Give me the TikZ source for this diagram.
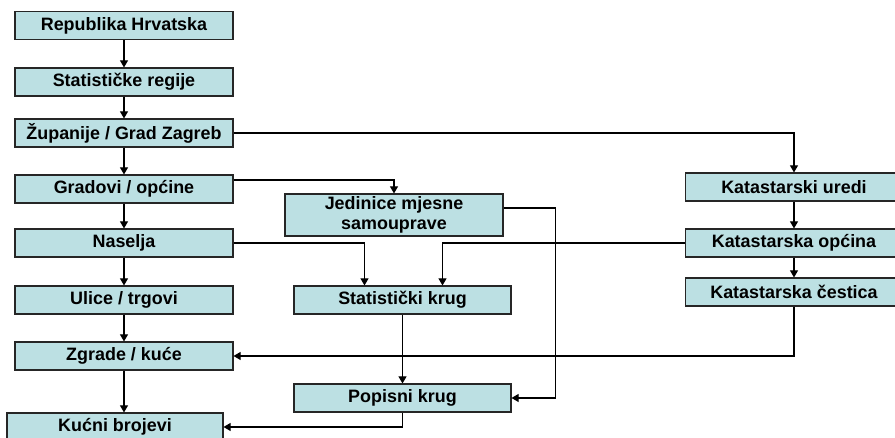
\documentclass[tikz,border=0pt]{standalone}
\usepackage{fontspec}
\setmainfont{Liberation Sans}
\usetikzlibrary{arrows.meta,calc}
\definecolor{boxblue}{RGB}{188,224,227}
\gdef\boxfill{boxblue}

\begin{document}
\begin{tikzpicture}[x=0.02cm, y=0.02cm, semithick,
    >={Triangle[length=4pt,width=4.5pt]},
    box/.style={draw=black!85, line width=0.6pt, fill=\boxfill, minimum width=4.36cm,
        minimum height=0.56cm, inner sep=0pt, align=center,
        font=\fontsize{10.2}{11}\selectfont\bfseries},
    conn/.style={line width=0.6pt}]

\useasboundingbox (0,0) rectangle (895,438);
\clip (0,0) rectangle (895,438);

\node[box] (rh) at (124,412.5) {Republika Hrvatska};
\node[box] (sr) at (124,356) {Statističke regije};
\node[box] (zu) at (124,305) {Županije / Grad Zagreb};
\node[box] (gr) at (124,249) {Gradovi / općine};
\node[box] (na) at (124,195) {Naselja};
\node[box] (ul) at (124,138) {Ulice / trgovi};
\node[box] (zk) at (124,82) {Zgrade / kuće};
\node[box, minimum width=4.32cm] (kb) at (115,11) {Kućni brojevi};

\node[box, minimum height=0.84cm] (jm) at (394,223) {Jedinice mjesne\\samouprave};
\node[box, minimum width=4.34cm] (sk) at (402.5,138) {Statistički krug};
\node[box, minimum width=4.34cm] (pk) at (402.5,40) {Popisni krug};

\node[box] (ku) at (794,251) {Katastarski uredi};
\node[box] (ko) at (794,195) {Katastarska općina};
\node[box] (kc) at (794,146) {Katastarska čestica};

\path[conn,->] (rh) edge (sr)
    (sr) edge (zu)
    (zu) edge (gr)
    (gr) edge (na)
    (na) edge (ul)
    (ul) edge (zk)
    (ku) edge (ko)
    (ko) edge (kc)
    (sk) edge (pk);

\draw[conn,->] (zk.south) -- (zk.south |- kb.north);
\draw[conn,->] (zu) -| (ku);
\draw[conn,->] ($(gr.east)+(0,9)$) -| (jm.north);
\draw[conn,->] (na.east) -| ($(sk.north)+(-38,0)$);
\draw[conn,->] (ko.west) -| ($(sk.north)+(40,0)$);
\draw[conn,->] ($(jm.east)+(0,7)$) -| ($(pk.east)+(44,0)$) -- (pk.east);
\draw[conn,->] (pk.south) |- (kb.east);
\draw[conn,->] (kc.south) |- (zk.east);

\end{tikzpicture}
\end{document}
